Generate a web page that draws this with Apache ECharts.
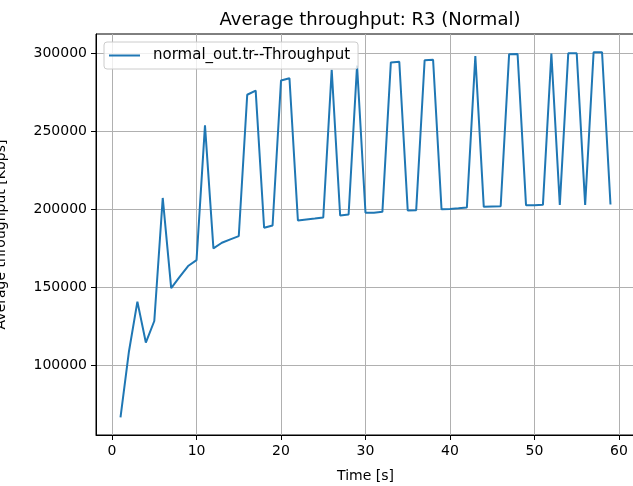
<!DOCTYPE html>
<html>
<head>
<meta charset="utf-8">
<script src="https://cdn.jsdelivr.net/npm/echarts@6/dist/echarts.min.js"></script>
<style>
html,body{margin:0;padding:0;background:#fff;}
#chart{width:633px;height:486px;}
</style>
</head>
<body>
<div id="chart"></div>
<script>
const titleText = 'Average throughput: R3 (Normal)';
const seriesName = 'normal_out.tr--Throughput';
const xLabel = 'Time [s]';
const yLabel = 'Average throughput [Kbps]';
const times = [1,2,3,4,5,6,7,8,9,10,11,12,13,14,15,16,17,18,19,20,21,22,23,24,25,26,27,28,29,30,31,32,33,34,35,36,37,38,39,40,41,42,43,44,45,46,47,48,49,50,51,52,53,54,55,56,57,58,59];
const throughput = [66800,109000,140900,114700,128500,207300,149500,156700,163700,167500,
  253800,175000,178600,180800,182900,273400,276000,188200,189700,282500,
  284000,192900,193500,194100,194800,289400,196100,196700,292100,197800,
  197900,198400,294100,294500,199300,199500,295500,295800,200100,200300,
  200700,201200,298100,201600,201800,202000,299400,299500,202700,202700,
  202900,299800,202900,299900,300000,202900,300600,300600,203100];
const xTicks = [0,10,20,30,40,50,60];
const yTicks = [100000,150000,200000,250000,300000];

const font = 'DejaVu Sans';
const chart = echarts.init(document.getElementById('chart'), null, {renderer:'canvas'});
chart.setOption({
  animation:false,
  backgroundColor:'#ffffff',
  title:{
    text:titleText, left:365, top:6, textAlign:'center',
    textStyle:{fontFamily:font, fontSize:18, fontWeight:'normal', color:'#000'}
  },
  legend:{
    left:104, top:42, orient:'vertical',
    padding:[6,8,6,5],
    backgroundColor:'rgba(255,255,255,0.8)',
    borderColor:'#cccccc', borderWidth:1, borderRadius:3,
    itemWidth:31, itemHeight:2, icon:'rect',
    textStyle:{fontFamily:font, fontSize:15, color:'#000', padding:[0,0,0,8]},
    data:[{name:seriesName, icon:'rect'}]
  },
  grid:{left:96, top:34, width:539, height:401, show:true, borderColor:'#000', borderWidth:1, containLabel:false, outerBoundsMode:'none'},
  xAxis:{
    type:'value', min:-1.9, max:61.9,
    name:xLabel, nameLocation:'middle', nameGap:34,
    nameTextStyle:{fontFamily:font, fontSize:14, color:'#000'},
    axisLine:{show:true, onZero:false, lineStyle:{color:'#000', width:1}},
    axisTick:{show:true, length:5, lineStyle:{color:'#000', width:1}, customValues:xTicks},
    axisLabel:{fontFamily:font, fontSize:14, color:'#000', margin:9, customValues:xTicks, formatter:v=>String(v)},
    splitLine:{show:true, lineStyle:{color:'#b0b0b0', width:1}}
  },
  yAxis:{
    type:'value', min:55500, max:312300,
    name:yLabel, nameLocation:'middle', nameGap:88, nameRotate:90,
    nameTextStyle:{fontFamily:font, fontSize:14, color:'#000'},
    axisLine:{show:true, onZero:false, lineStyle:{color:'#000', width:1}},
    axisTick:{show:true, length:5, lineStyle:{color:'#000', width:1}, customValues:yTicks},
    axisLabel:{fontFamily:font, fontSize:14, color:'#000', margin:9, customValues:yTicks, formatter:v=>String(v)},
    splitLine:{show:true, lineStyle:{color:'#b0b0b0', width:1}}
  },
  series:[{
    name:seriesName, type:'line',
    data:times.map((t,i)=>[t, throughput[i]]),
    showSymbol:false, symbol:'none',
    lineStyle:{color:'#1f77b4', width:2},
    itemStyle:{color:'#1f77b4'}
  }]
});
</script>
</body>
</html>
